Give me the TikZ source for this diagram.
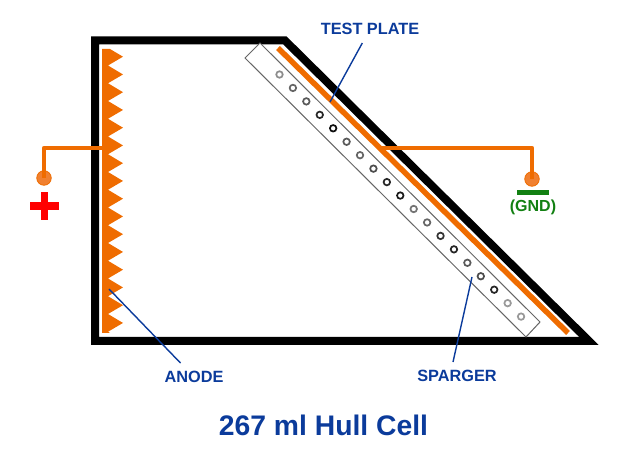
\documentclass[tikz,border=0pt]{standalone}
\usepackage{fontspec}
\setmainfont{Liberation Sans}
\usetikzlibrary{positioning}
\definecolor{leadorange}{HTML}{EF6C00}
\definecolor{dotorange}{HTML}{F08030}
\definecolor{labelblue}{HTML}{0B3B9B}
\definecolor{gndgreen}{HTML}{128012}
\tikzset{
  wall/.style={line width=8pt, line join=miter},
  lead/.style={draw=leadorange, line width=4.5pt, line join=round},
  terminal/.style={circle, draw=leadorange, fill=dotorange, line width=0.8pt, minimum size=14.5pt, inner sep=0pt},
  hole/.style={circle, fill=white, line width=1.7pt, minimum size=6.5pt, inner sep=0pt},
  partname/.style={text=labelblue, font=\bfseries\fontsize{16.3}{18}\selectfont, inner xsep=1pt, inner ysep=8pt},
  leader/.style={draw=labelblue, line width=1.4pt},
}
\begin{document}
\begin{tikzpicture}[x=1pt, y=-1pt]
  \useasboundingbox (0,0) rectangle (625,462);
  % Cell
  \draw[wall] (95,341) -- (95,40.5) -- (285,40.5) -- (589,341) -- cycle;
  % Anode
  \fill[leadorange] (102,49) -- (110,49) foreach \i in {0,...,15} {
    -- ({123},{56.7+17.75*\i}) -- ({108},{65.5+17.75*\i})
  } -- (110,333) -- (102,333) -- cycle;
  % Sparger
  \draw[draw=black!60, fill=white, line width=1pt] (260,43) -- (245,58) -- (526,337) -- (540,322) -- cycle;
  \foreach \i/\k in {0/45,1/60,2/65,3/85,4/95,5/65,6/60,7/70,8/85,9/90,10/55,11/60,12/80,13/85,14/65,15/70,16/85,17/40,18/40} {
    \node[hole, draw=black!\k] (h-\i) at ({279.5+13.42*\i},{74.5+13.45*\i}) {};
  }
  % Plate
  \draw[lead, line width=5.5pt] (278,48) -- (568,333);
  % Nodes
  \coordinate (anode-tap) at (103,148);
  \coordinate (plate-tap) at (380,148);
  \coordinate (anode-end) at (109,289);
  \coordinate (plate-end) at (330,102);
  \coordinate (sparger-end) at (472,277);
  \node (pos) [terminal] at (44,178) {};
  \node (neg) [terminal] at (532,179) {};
  \node (gnd-bar) [fill=gndgreen, minimum width=32pt, minimum height=5pt, inner sep=0pt] at (533,192.5) {};
  \node (gnd-txt) [text=gndgreen, font=\bfseries\fontsize{16}{18}\selectfont, inner sep=0pt] at (533,207) {(GND)};
  \node (plus-h) [fill=red, minimum width=29pt, minimum height=7.5pt, inner sep=0pt] at (44.5,206) {};
  \node (plus-v) [fill=red, minimum width=7.5pt, minimum height=28pt, inner sep=0pt] at (44.5,206) {};
  \node (test-txt) [partname] at (370,29) {TEST PLATE};
  \node (anode-txt) [partname] at (194,377) {ANODE};
  \node (sparger-txt) [partname] at (457,376) {SPARGER};
  \node (title) [text=labelblue, font=\bfseries\fontsize{28.3}{32}\selectfont] at (323.5,425) {267 ml Hull Cell};
  % Leads
  \draw[lead] (anode-tap) -- (44,148) -- (pos.center);
  \draw[lead] (plate-tap) -- (532,148) -- (neg.center);
  % Arrow
  \draw[leader] (test-txt) -- (plate-end);
  \draw[leader] (anode-txt) -- (anode-end);
  \draw[leader] ([xshift=-4pt]sparger-txt.north) -- (sparger-end);
\end{tikzpicture}
\end{document}
